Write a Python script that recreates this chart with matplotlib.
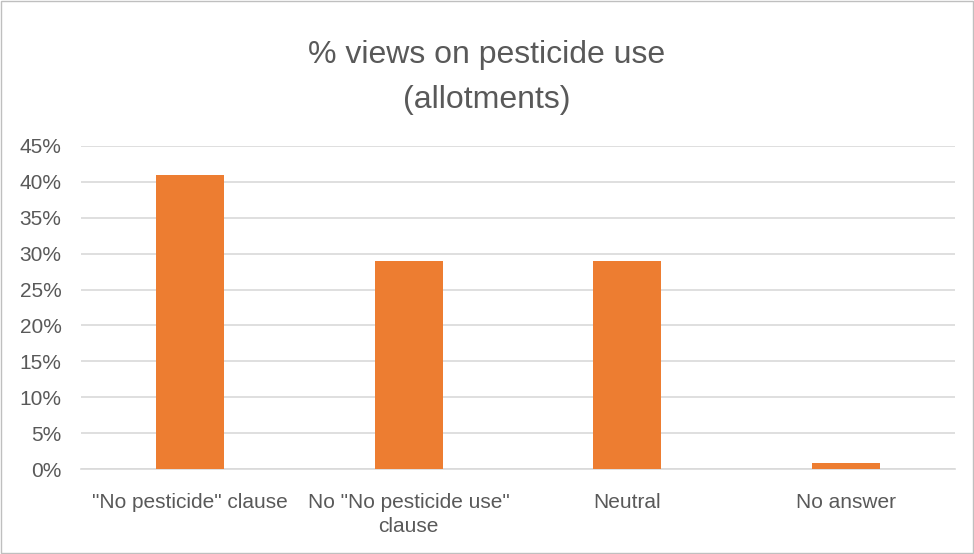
import matplotlib.pyplot as plt
from matplotlib.patches import Rectangle
from matplotlib.ticker import PercentFormatter

categories = ['"No pesticide" clause', 'No "No pesticide use"\nclause', "Neutral", "No answer"]
shares = [0.41, 0.29, 0.29, 0.008]
yticks = [0, 0.05, 0.10, 0.15, 0.20, 0.25, 0.30, 0.35, 0.40, 0.45]

TEXT = "#595959"
plt.rcParams["font.family"] = ["Liberation Sans", "DejaVu Sans"]

fig = plt.figure(figsize=(9.74, 5.54), dpi=100)
ax = fig.add_axes([0.0832, 0.1534, 0.8973, 0.5831])

x = range(len(categories))
ax.bar(x, shares, width=0.31, color="#ED7D31", zorder=3)

ax.set_xlim(-0.5, len(categories) - 0.5)
ax.set_ylim(0, 0.45)
ax.set_yticks(yticks)
ax.yaxis.set_major_formatter(PercentFormatter(1.0, decimals=0))
ax.set_xticks(list(x))
ax.set_xticklabels(categories, linespacing=1.35)
ax.tick_params(axis="both", length=0, labelsize=15, colors=TEXT)
ax.tick_params(axis="x", pad=17)
ax.tick_params(axis="y", pad=14)
ax.grid(axis="y", color="#D9D9D9", linewidth=1.2, zorder=0)
for side in ["top", "right", "left"]:
    ax.spines[side].set_visible(False)
ax.spines["bottom"].set_color("#D9D9D9")
ax.spines["bottom"].set_linewidth(1.2)

fig.text(0.5, 0.86, "% views on pesticide use\n(allotments)", ha="center", va="center",
         fontsize=23, color=TEXT, linespacing=1.65)

# light border around the chart area
fig.add_artist(Rectangle((0.001, 0.001), 0.998, 0.998, transform=fig.transFigure,
                         fill=False, edgecolor="#BFBFBF", linewidth=1))

fig.savefig("out.png", dpi=100)
